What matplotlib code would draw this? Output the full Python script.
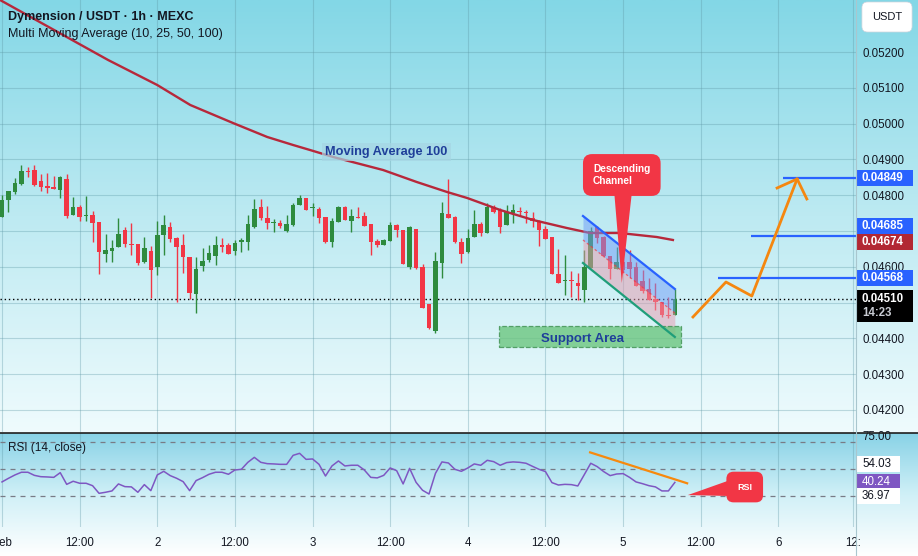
import numpy as np
import matplotlib
matplotlib.use('Agg')
import matplotlib.pyplot as plt
import matplotlib.transforms as mtrans
from matplotlib.patches import Rectangle, Polygon
from matplotlib.lines import Line2D
from matplotlib.colors import LinearSegmentedColormap
from matplotlib.ticker import FormatStrFormatter

plt.rcParams['font.family'] = ['Liberation Sans', 'DejaVu Sans']

W, H = 918, 556

# --- 1h candles, hour 0 = 1 Feb 00:00 ---
opens = [0.04740, 0.04787, 0.04810, 0.04831, 0.04868, 0.04870, 0.04840, 0.04826, 0.04823, 0.04815,
         0.04845, 0.04745, 0.04767, 0.04743, 0.04745, 0.04725, 0.04637, 0.04645, 0.04656, 0.04703,
         0.04663, 0.04664, 0.04614, 0.04644, 0.04600, 0.04689, 0.04711, 0.04681, 0.04661, 0.04626,
         0.04525, 0.04603, 0.04620, 0.04631, 0.04661, 0.04661, 0.04645, 0.04668, 0.04670, 0.04712,
         0.04767, 0.04736, 0.04722, 0.04722, 0.04701, 0.04718, 0.04774, 0.04791, 0.04765, 0.04762,
         0.04740, 0.04668, 0.04726, 0.04768, 0.04729, 0.04740, 0.04742, 0.04720, 0.04672, 0.04661,
         0.04673, 0.04717, 0.04703, 0.04600, 0.04706, 0.04600, 0.04496, 0.04421, 0.04612, 0.04747,
         0.04740, 0.04668, 0.04641, 0.04684, 0.04720, 0.04695, 0.04766, 0.04759, 0.04716, 0.04749,
         0.04757, 0.04752, 0.04736, 0.04729, 0.04705, 0.04682, 0.04580, 0.04560, 0.04561, 0.04556,
         0.04535, 0.04596, 0.04710, 0.04682, 0.04630, 0.04593, 0.04614, 0.04614, 0.04600, 0.04560,
         0.04537, 0.04509, 0.04503, 0.04464, 0.04466]
highs = [0.04801, 0.04812, 0.04847, 0.04884, 0.04880, 0.04884, 0.04859, 0.04861, 0.04854, 0.04854,
         0.04859, 0.04795, 0.04773, 0.04798, 0.04756, 0.04725, 0.04692, 0.04675, 0.04736, 0.04710,
         0.04722, 0.04664, 0.04683, 0.04658, 0.04728, 0.04745, 0.04725, 0.04682, 0.04692, 0.04627,
         0.04627, 0.04653, 0.04661, 0.04686, 0.04681, 0.04667, 0.04675, 0.04681, 0.04745, 0.04789,
         0.04789, 0.04770, 0.04734, 0.04731, 0.04745, 0.04777, 0.04801, 0.04791, 0.04777, 0.04768,
         0.04740, 0.04736, 0.04770, 0.04770, 0.04761, 0.04768, 0.04754, 0.04720, 0.04677, 0.04677,
         0.04726, 0.04720, 0.04703, 0.04714, 0.04706, 0.04608, 0.04496, 0.04642, 0.04782, 0.04844,
         0.04742, 0.04680, 0.04705, 0.04759, 0.04726, 0.04779, 0.04773, 0.04763, 0.04773, 0.04776,
         0.04768, 0.04759, 0.04754, 0.04731, 0.04714, 0.04682, 0.04649, 0.04633, 0.04587, 0.04582,
         0.04647, 0.04712, 0.04714, 0.04686, 0.04630, 0.04656, 0.04619, 0.04647, 0.04614, 0.04591,
         0.04568, 0.04554, 0.04503, 0.04517, 0.04537]
lows = [0.04740, 0.04754, 0.04803, 0.04829, 0.04852, 0.04826, 0.04813, 0.04807, 0.04816, 0.04791,
        0.04737, 0.04745, 0.04729, 0.04729, 0.04668, 0.04580, 0.04614, 0.04614, 0.04656, 0.04656,
        0.04633, 0.04605, 0.04612, 0.04514, 0.04578, 0.04633, 0.04668, 0.04503, 0.04584, 0.04509,
        0.04472, 0.04589, 0.04614, 0.04605, 0.04640, 0.04637, 0.04634, 0.04642, 0.04647, 0.04709,
        0.04731, 0.04706, 0.04698, 0.04709, 0.04698, 0.04715, 0.04773, 0.04759, 0.04743, 0.04723,
        0.04666, 0.04656, 0.04726, 0.04731, 0.04698, 0.04736, 0.04715, 0.04633, 0.04655, 0.04661,
        0.04673, 0.04682, 0.04608, 0.04594, 0.04593, 0.04485, 0.04425, 0.04414, 0.04570, 0.04737,
        0.04666, 0.04610, 0.04639, 0.04682, 0.04686, 0.04695, 0.04751, 0.04695, 0.04716, 0.04722,
        0.04742, 0.04722, 0.04710, 0.04659, 0.04678, 0.04580, 0.04554, 0.04520, 0.04517, 0.04507,
        0.04503, 0.04596, 0.04666, 0.04628, 0.04565, 0.04593, 0.04582, 0.04568, 0.04547, 0.04526,
        0.04507, 0.04479, 0.04461, 0.04456, 0.04466]
closes = [0.04787, 0.04812, 0.04835, 0.04868, 0.04865, 0.04829, 0.04824, 0.04821, 0.04818, 0.04850,
          0.04743, 0.04767, 0.04740, 0.04745, 0.04721, 0.04640, 0.04647, 0.04653, 0.04692, 0.04664,
          0.04661, 0.04612, 0.04653, 0.04592, 0.04689, 0.04717, 0.04679, 0.04656, 0.04626, 0.04528,
          0.04594, 0.04616, 0.04639, 0.04661, 0.04656, 0.04637, 0.04667, 0.04675, 0.04720, 0.04762,
          0.04735, 0.04721, 0.04726, 0.04715, 0.04720, 0.04773, 0.04792, 0.04759, 0.04767, 0.04737,
          0.04668, 0.04729, 0.04768, 0.04731, 0.04742, 0.04737, 0.04715, 0.04670, 0.04661, 0.04675,
          0.04717, 0.04703, 0.04608, 0.04712, 0.04596, 0.04485, 0.04430, 0.04616, 0.04750, 0.04737,
          0.04670, 0.04635, 0.04680, 0.04720, 0.04695, 0.04768, 0.04752, 0.04712, 0.04752, 0.04758,
          0.04753, 0.04749, 0.04728, 0.04703, 0.04678, 0.04580, 0.04556, 0.04563, 0.04560, 0.04545,
          0.04600, 0.04700, 0.04681, 0.04630, 0.04595, 0.04614, 0.04591, 0.04595, 0.04547, 0.04533,
          0.04507, 0.04503, 0.04464, 0.04462, 0.04510]

# moving average 100
ma_hours = [-0.3, 16.4, 24.0, 29.1, 35.7, 41.0, 45.0, 47.6, 51.2, 58.9, 64.1, 68.8, 71.9,
            77.0, 82.1, 87.3, 90.9, 95.5, 101.2, 103.7]
ma_vals = [0.053453, 0.051777, 0.051078, 0.050520, 0.050017, 0.049626, 0.049402, 0.049263,
           0.049067, 0.048704, 0.048369, 0.048089, 0.047922, 0.047587, 0.047307, 0.047084,
           0.046944, 0.046944, 0.046832, 0.046749]

rsi = [40.6, 43.3, 45.8, 47.8, 47.8, 45.5, 44.5, 44.3, 44.0, 47.5, 38.8, 41.1, 39.6, 39.6, 37.8,
       32.1, 32.9, 33.9, 39.1, 37.1, 36.9, 32.9, 38.6, 34.1, 45.8, 48.5, 45.3, 43.3, 40.8, 34.1,
       41.6, 43.8, 46.3, 47.8, 47.8, 46.3, 49.5, 50.0, 55.2, 58.9, 55.2, 54.2, 54.0, 53.7, 53.7,
       60.4, 61.9, 57.4, 57.7, 53.7, 45.0, 52.5, 56.2, 52.5, 53.0, 53.0, 49.5, 44.0, 43.6, 45.5,
       51.0, 49.0, 39.1, 50.7, 40.3, 34.4, 31.6, 47.0, 55.5, 54.7, 50.0, 48.5, 51.0, 54.0, 53.0,
       56.7, 55.7, 53.0, 55.0, 55.5, 55.2, 54.5, 52.2, 50.0, 48.3, 40.1, 38.3, 38.8, 38.6, 37.6,
       46.0, 54.5, 52.0, 48.3, 45.3, 46.5, 46.8, 44.0, 40.6, 39.3, 37.8, 36.9, 33.9, 33.9, 40.24]

# drawings
channel_x = [89.8, 104.0]
channel_upper = [0.047419, 0.045380]
channel_mid = [0.046749, 0.044709]
channel_lower = [0.046106, 0.044039]
support_x = [76.8, 104.9]
support_y = [0.043760, 0.044346]
path_x = [106.8, 111.9, 115.9, 122.9]
path_y = [0.044598, 0.045575, 0.045184, 0.048453]
head_x = [119.8, 122.9, 124.4]
head_y = [0.048201, 0.048453, 0.047894]
targets = [0.04849, 0.04685, 0.04568]
target_start = [120.7, 115.8, 110.7]
rsi_trend_x = [90.9, 105.9]
rsi_trend_y = [62.6, 39.6]

# price axis ticks (0.04500 and 0.04700 sit under the price badges)
price_ticks = [0.042, 0.043, 0.044, 0.046, 0.048, 0.049, 0.050, 0.051, 0.052]
xticks = [0, 12, 24, 36, 48, 60, 72, 84, 96, 108, 120, 131.6]
xlabels = ['Feb', '12:00', '2', '12:00', '3', '12:00', '4', '12:00', '5', '12:00', '6', '12:']
last_price = 0.04510
ma_last = 0.04674

GREEN = '#2e8b3e'
RED = '#f23645'
BLUE = '#2962ff'

opens, highs, lows, closes = map(np.array, (opens, highs, lows, closes))
hours = np.arange(len(opens))


def rect(x0, y0, x1, y1):
    return [x0 / W, 1 - y1 / H, (x1 - x0) / W, (y1 - y0) / H]


fig = plt.figure(figsize=(W / 100, H / 100), dpi=100)
fig.patch.set_facecolor('white')

grad = np.linspace(0, 1, 256).reshape(-1, 1)
bg1 = fig.add_axes(rect(0, 0, W, 432))
bg1.imshow(grad, aspect='auto', extent=[0, 1, 0, 1],
           cmap=LinearSegmentedColormap.from_list('g1', ['#83d7e6', '#bdeaf2', '#effbfd']))
bg1.axis('off')
bg2 = fig.add_axes(rect(0, 433, W, H))
bg2.imshow(grad, aspect='auto', extent=[0, 1, 0, 1],
           cmap=LinearSegmentedColormap.from_list('g2', ['#88d2e6', '#d0f0f7', '#ffffff']))
bg2.axis('off')

ax = fig.add_axes(rect(0, 0, 856, 432))
axr = fig.add_axes(rect(0, 433, 856, 527))
for a in (ax, axr):
    a.set_facecolor('none')
    for s in a.spines.values():
        s.set_visible(False)
    a.set_xlim(-0.31, 132.0)
    a.set_xticks(xticks)
    a.grid(True, color='#5e98a6', alpha=0.35, lw=0.8)
    a.yaxis.tick_right()

# ---- price panel ----
ax.set_ylim(0.041385, 0.053453)
ax.set_yticks(price_ticks)
ax.yaxis.set_major_formatter(FormatStrFormatter('%.5f'))
ax.tick_params(axis='y', length=0, pad=5, labelsize=8.3, labelcolor='#131722')
ax.tick_params(axis='x', length=0, labelbottom=False)
for lvl in (0.045, 0.047):
    ax.axhline(lvl, color='#5e98a6', alpha=0.35, lw=0.8, zorder=1)

colors = np.where(closes >= opens, GREEN, RED)
ax.vlines(hours, lows, highs, colors=colors, lw=1.0, zorder=3)
ax.bar(hours, np.maximum(np.abs(closes - opens), 0.00002), bottom=np.minimum(opens, closes),
       width=0.7, color=colors, zorder=4)
ax.plot(ma_hours, ma_vals, color='#b7283b', lw=1.7, zorder=5)
ax.axhline(last_price, color='black', ls=(0, (1, 2)), lw=1, zorder=2)

ax.fill_between(channel_x, channel_mid, channel_upper, color='#6e9cf7', alpha=0.5, lw=0, zorder=6)
ax.fill_between(channel_x, channel_lower, channel_mid, color='#e89aae', alpha=0.5, lw=0, zorder=6)
ax.plot(channel_x, channel_upper, color=BLUE, lw=1.6, zorder=7)
ax.plot(channel_x, channel_lower, color='#1f9e7a', lw=1.6, zorder=7)
ax.plot(channel_x, channel_mid, color=RED, lw=0.9, ls=(0, (2, 2)), alpha=0.7, zorder=7)

ax.add_patch(Rectangle((support_x[0], support_y[0]), support_x[1] - support_x[0],
                       support_y[1] - support_y[0], fc='#6cc67f', alpha=0.8, ec='#3d8f4f',
                       ls='--', lw=0.9, zorder=6))
ax.text(89.8, 0.043983, 'Support Area', ha='center', va='center', fontsize=9.5,
        weight='bold', color='#1f3f9a', zorder=8)
ax.text(59.4, 0.049207, 'Moving Average 100', ha='center', va='center', fontsize=9.2,
        weight='bold', color='#1f3f9a', zorder=8,
        bbox=dict(boxstyle='square,pad=0.25', fc='#a6d6e4', ec='none', alpha=0.7))

ax.add_patch(Polygon([(94.6, 0.048145), (97.4, 0.048145), (95.8, 0.045547)],
                     closed=True, fc=RED, ec='none', zorder=9))
ax.text(95.8, 0.048564, 'Descending\nChannel', ha='center', va='center', multialignment='left',
        fontsize=7.3, weight='bold', color='white', zorder=10,
        bbox=dict(boxstyle='round,pad=1.0,rounding_size=0.9', fc=RED, ec='none'))

ax.plot(path_x, path_y, color='#f5870f', lw=2.0, zorder=8)
ax.plot(head_x, head_y, color='#f5870f', lw=2.0, zorder=8)
ax.hlines(targets, target_start, 132.0, color=BLUE, lw=1.6, zorder=7)


def badge(a, val, txt, fc, tc='white', dy=0, w=56, bold=True):
    y0, y1 = a.get_ylim()
    per = (y1 - y0) / (a.get_position().height * H)
    yc = val + dy * per
    tr = mtrans.blended_transform_factory(a.transAxes, a.transData)
    a.add_patch(Rectangle((1 + 1 / 856, yc - 8 * per), w / 856, 16 * per, transform=tr,
                          fc=fc, ec='none', clip_on=False, zorder=20))
    a.text(1 + 6 / 856, yc, txt, transform=tr, ha='left', va='center', fontsize=8.3,
           color=tc, weight='bold' if bold else 'normal', clip_on=False, zorder=21)


badge(ax, 0.04849, '0.04849', BLUE)
badge(ax, 0.04685, '0.04685', BLUE, dy=10)
badge(ax, ma_last, '0.04674', '#b22833', dy=-2)
badge(ax, 0.04568, '0.04568', BLUE)

per = (ax.get_ylim()[1] - ax.get_ylim()[0]) / 432
trp = mtrans.blended_transform_factory(ax.transAxes, ax.transData)
ax.add_patch(Rectangle((1 + 1 / 856, last_price - 23 * per), 56 / 856, 32 * per, transform=trp,
                       fc='black', ec='none', clip_on=False, zorder=20))
ax.text(1 + 6 / 856, last_price, '0.04510', transform=trp, ha='left', va='center',
        fontsize=8.3, color='white', weight='bold', clip_on=False, zorder=21)
ax.text(1 + 6 / 856, last_price - 14 * per, '14:23', transform=trp, ha='left', va='center',
        fontsize=8.3, color='#c8cbd2', weight='bold', clip_on=False, zorder=21)

# ---- RSI panel ----
axr.set_ylim(7.04, 77.03)
axr.set_yticks([75])
axr.set_yticklabels(['75.00'])
axr.tick_params(axis='y', length=0, pad=5, labelsize=8.3, labelcolor='#131722')
axr.yaxis.grid(False)
axr.set_xticklabels(xlabels)
axr.tick_params(axis='x', length=0, pad=7, labelsize=8.3, labelcolor='#131722')
for lvl in (70, 50, 30):
    axr.axhline(lvl, color='#787b86', ls=(0, (4, 4)), lw=0.9, zorder=2)
axr.plot(hours, rsi, color='#7e57c2', lw=1.1, zorder=4)
axr.plot(rsi_trend_x, rsi_trend_y, color='#f7890d', lw=1.6, zorder=5)
axr.add_patch(Polygon([(106.0, 30.8), (113.6, 43.8), (113.6, 30.0)], closed=True,
                      fc=RED, ec='none', zorder=8))
axr.text(114.8, 36.8, 'RSI', ha='center', va='center', fontsize=6.5, weight='bold',
         color='white', zorder=9,
         bbox=dict(boxstyle='round,pad=1.2,rounding_size=0.8', fc=RED, ec='none'))

badge(axr, 54.03, '54.03', 'white', tc='#131722', w=43, bold=False)
badge(axr, 40.24, '40.24', '#7e57c2', w=43, bold=False)
badge(axr, 36.97, '36.97', 'white', tc='#131722', dy=-9, w=43, bold=False)

# ---- frame, titles ----
fig.add_artist(Line2D([0, 1], [1 - 432.5 / H] * 2, color='#1e1e1e', lw=1.2))
fig.add_artist(Line2D([856 / W] * 2, [0, 1], color='#a9c6ce', lw=0.8))
fig.text(8 / W, 1 - 17 / H, 'Dymension / USDT · 1h · MEXC', fontsize=9, weight='bold',
         color='#131722', va='center')
fig.text(8 / W, 1 - 34 / H, 'Multi Moving Average (10, 25, 50, 100)', fontsize=9,
         color='#131722', va='center')
fig.text(8 / W, 1 - 448 / H, 'RSI (14, close)', fontsize=8.5, color='#131722', va='center')
fig.text(887 / W, 1 - 17 / H, 'USDT', fontsize=8, color='#131722', ha='center', va='center',
         bbox=dict(boxstyle='round,pad=0.9,rounding_size=0.5', fc='white', ec='#d1d4dc', lw=0.5))

fig.savefig('out.png', dpi=100)
